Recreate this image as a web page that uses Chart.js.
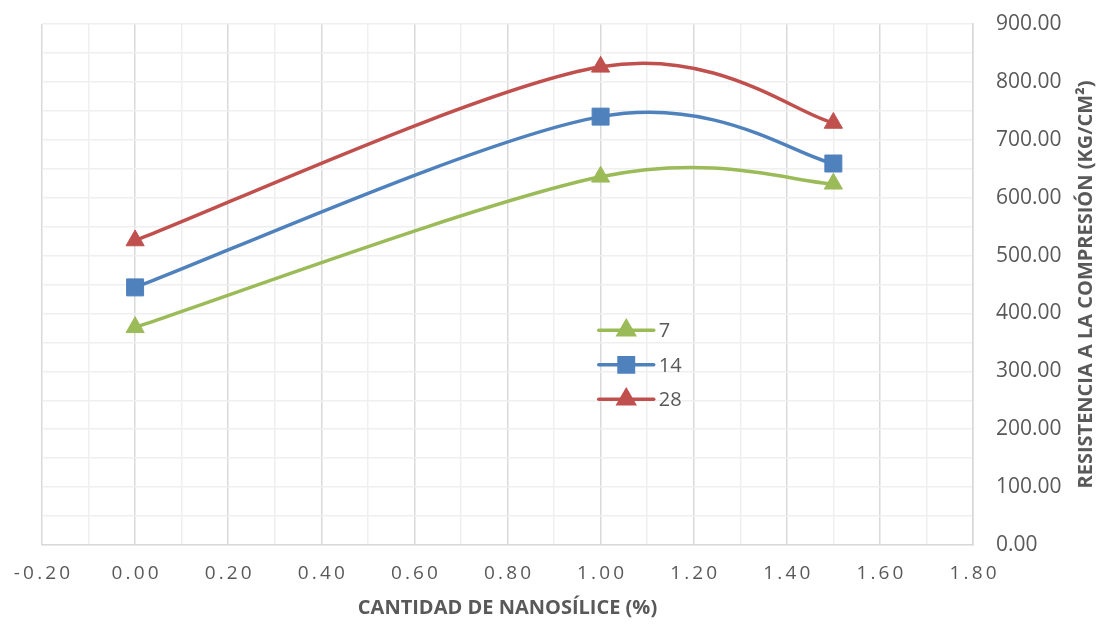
<!DOCTYPE html>
<html>
<head>
<meta charset="utf-8">
<script src="https://cdn.jsdelivr.net/npm/chart.js@4/dist/chart.umd.min.js"></script>
<style>
  body { margin: 0; background: #fff; }
  #wrap { width: 1104px; height: 624px; }
</style>
</head>
<body>
<div id="wrap"><canvas id="resistChart" width="1104" height="624"></canvas></div>
<script>
const nanosilice = [0, 1.0, 1.5];
const dias7 = [376, 636, 624];
const dias14 = [445, 740, 659];
const dias28 = [526, 826, 729];
const seriesNames = ['7', '14', '28'];

const xTitle = 'CANTIDAD DE NANOSÍLICE (%)';
const yTitle = 'RESISTENCIA A LA COMPRESIÓN (KG/CM²)';

const textGray = '#595959';
Chart.defaults.font.family = "'Open Sans', sans-serif";
Chart.defaults.color = textGray;

const toPoints = (vals) => vals.map((v, i) => ({ x: nanosilice[i], y: v }));

// spaced-out digits on the x axis, like "0 . 2 0"
const spaced = (s) => s.split('').join('\u2009');

// Catmull-Rom style smoothing: control points at +-1/6 of the neighbour chord
const smoothLines = {
  id: 'smoothLines',
  beforeDatasetsDraw(chart) {
    chart.data.datasets.forEach((ds, i) => {
      const meta = chart.getDatasetMeta(i);
      meta.dataset.updateControlPoints(chart.chartArea, 'x');
      const pts = meta.data;
      pts.forEach((p, k) => {
        const prev = pts[Math.max(k - 1, 0)];
        const next = pts[Math.min(k + 1, pts.length - 1)];
        const dx = (next.x - prev.x) / 6;
        const dy = (next.y - prev.y) / 6;
        p.cp1x = p.x - dx; p.cp1y = p.y - dy;
        p.cp2x = p.x + dx; p.cp2y = p.y + dy;
      });
    });
  }
};

const legendInside = {
  id: 'legendInside',
  afterDraw(chart) {
    const { ctx, chartArea: a } = chart;
    const w = a.right - a.left, h = a.bottom - a.top;
    const x0 = a.left + 0.598 * w;
    const lineLen = 55;
    chart.data.datasets.forEach((ds, i) => {
      const y = a.top + 0.588 * h + i * 34.5;
      ctx.save();
      ctx.strokeStyle = ds.borderColor;
      ctx.lineWidth = 3.5;
      ctx.lineCap = 'round';
      ctx.beginPath();
      ctx.moveTo(x0, y);
      ctx.lineTo(x0 + lineLen, y);
      ctx.stroke();
      ctx.fillStyle = ds.pointBackgroundColor;
      ctx.strokeStyle = ds.pointBorderColor;
      Chart.helpers.drawPoint(ctx, {
        pointStyle: ds.pointStyle,
        radius: ds.pointRadius * 0.85,
        rotation: 0,
        borderWidth: 1
      }, x0 + lineLen / 2, y);
      ctx.fillStyle = textGray;
      ctx.font = "20px 'Open Sans', sans-serif";
      ctx.textBaseline = 'middle';
      ctx.textAlign = 'left';
      ctx.fillText(ds.label, x0 + lineLen + 5, y + 1);
      ctx.restore();
    });
  }
};

// y title reads bottom-to-top on the right side
const rightTitle = {
  id: 'rightTitle',
  afterDraw(chart) {
    const { ctx, chartArea: a } = chart;
    ctx.save();
    ctx.translate(1086, (a.top + a.bottom) / 2);
    ctx.rotate(-Math.PI / 2);
    ctx.font = "bold 20px 'Open Sans', sans-serif";
    ctx.fillStyle = textGray;
    ctx.textAlign = 'center';
    ctx.textBaseline = 'middle';
    ctx.fillText(yTitle, 0, 0);
    ctx.restore();
  }
};

const noEdgePadding = (scale) => {
  scale.paddingTop = 0; scale.paddingBottom = 0;
  scale.paddingLeft = 0; scale.paddingRight = 0;
};

const makeSet = (label, vals, color, style, radius) => ({
  label: label,
  data: toPoints(vals),
  borderColor: color,
  backgroundColor: color,
  pointBackgroundColor: color,
  pointBorderColor: color,
  pointStyle: style,
  pointRadius: radius,
  pointHoverRadius: radius,
  pointBorderWidth: 1,
  borderWidth: 3.5,
  tension: 0.4,
  fill: false
});

new Chart(document.getElementById('resistChart'), {
  type: 'line',
  data: {
    datasets: [
      makeSet(seriesNames[0], dias7, '#9bbb59', 'triangle', 10.5),
      makeSet(seriesNames[1], dias14, '#4f81bd', 'rect', 12),
      makeSet(seriesNames[2], dias28, '#c0504d', 'triangle', 10.5)
    ]
  },
  options: {
    responsive: false,
    animation: false,
    devicePixelRatio: 1,
    events: [],
    layout: { padding: { top: 24, right: 42, bottom: 0, left: 42 } },
    plugins: {
      legend: { display: false },
      tooltip: { enabled: false }
    },
    scales: {
      x: {
        type: 'linear',
        min: -0.2,
        max: 1.8,
        afterFit: (scale) => { noEdgePadding(scale); scale.height = 79; },
        ticks: {
          stepSize: 0.1,
          autoSkip: false,
          maxRotation: 0,
          padding: 17,
          font: { size: 19 },
          callback: (v, i) => (i % 2 === 0 ? spaced(Number(v).toFixed(2)) : '')
        },
        grid: {
          drawTicks: false,
          color: (c) => (c.index % 2 === 0 ? '#d9d9d9' : '#efefef'),
          lineWidth: 1.5
        },
        border: { color: '#d9d9d9', width: 1.5 },
        title: {
          display: true,
          text: xTitle,
          font: { size: 20, weight: 'bold' },
          color: textGray,
          padding: { top: 13, bottom: 4 }
        }
      },
      y: {
        position: 'right',
        min: 0,
        max: 900,
        afterFit: (scale) => { noEdgePadding(scale); scale.width = 89; },
        ticks: {
          stepSize: 50,
          autoSkip: false,
          padding: 23,
          font: { size: 21 },
          callback: (v) => (v % 100 === 0 ? Number(v).toFixed(2) : '')
        },
        grid: {
          drawTicks: false,
          color: '#efefef',
          lineWidth: 1.5
        },
        border: { color: '#d9d9d9', width: 1.5 }
      }
    }
  },
  plugins: [smoothLines, legendInside, rightTitle]
});
</script>
</body>
</html>
